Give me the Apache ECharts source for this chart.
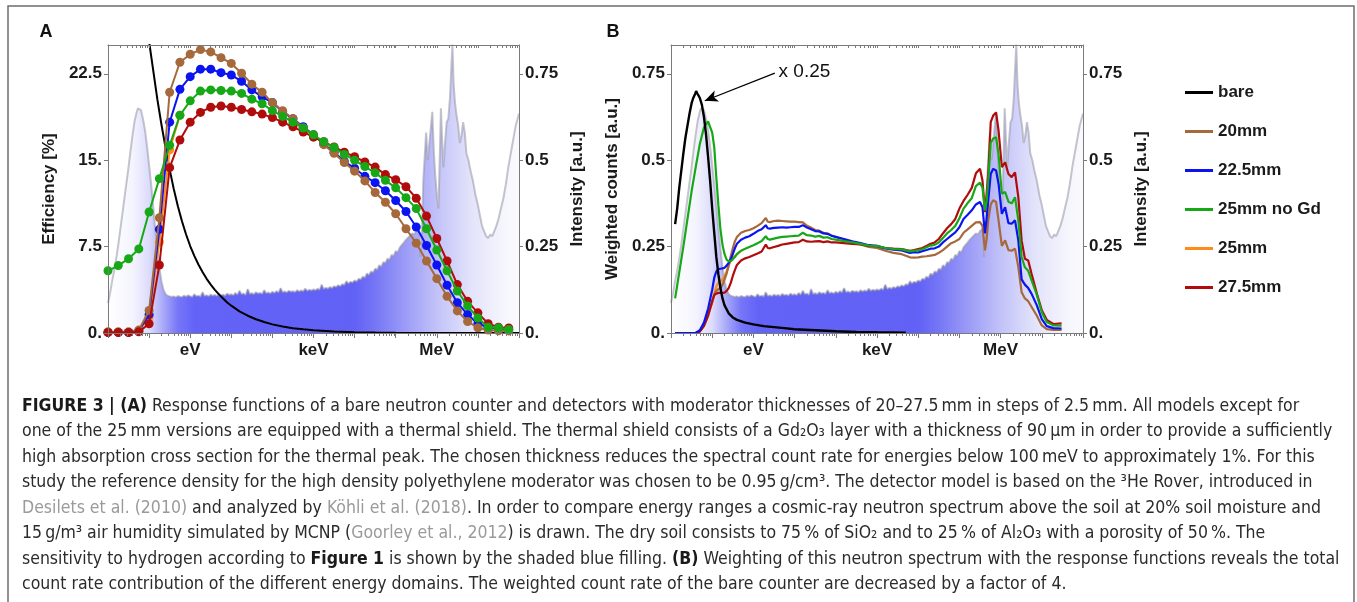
<!DOCTYPE html>
<html><head><meta charset="utf-8">
<script src="https://cdn.jsdelivr.net/npm/echarts@6/dist/echarts.min.js"></script>
<style>html,body{margin:0;padding:0;background:#fff}#c{width:1357px;height:602px}</style>
</head><body><div id="c"></div>
<script>
// ---------- DATA (x = log10(E / eV)) ----------
const xTickLabels = {0:'eV', 3:'keV', 6:'MeV'};
const seriesNames = ['bare','20mm','22.5mm','25mm no Gd','25mm','27.5mm'];

// Panel A: response functions (efficiency %), points every quarter decade
const effX = [-2,-1.75,-1.5,-1.25,-1,-0.75,-0.5,-0.25,0,0.25,0.5,0.75,1,1.25,1.5,1.75,2,2.25,2.5,2.75,3,3.25,3.5,3.75,4,4.25,4.5,4.75,5,5.25,5.5,5.75,6,6.25,6.5,6.75,7,7.25,7.5,7.75];
const eff20   = [0.1,0.1,0.1,0.25,1.95,10.0,20.9,23.5,24.2,24.6,24.4,23.9,23.4,22.55,21.6,20.9,20.0,19.3,18.6,17.8,17.2,16.35,15.6,14.8,14.05,13.2,12.2,11.35,10.35,9.05,7.8,6.25,4.72,3.18,1.92,1.0,0.45,0.25,0.2,0.18];
const eff225  = [0.05,0.05,0.05,0.2,1.6,9.0,18.3,21.15,22.25,22.9,22.9,22.6,22.4,21.85,21.1,20.5,20.0,19.2,18.6,17.9,17.2,16.4,15.7,14.9,14.3,13.6,13.05,12.35,11.5,10.55,9.2,7.6,5.9,4.15,2.63,1.6,0.8,0.5,0.35,0.3];
const eff25ng = [5.4,5.85,6.45,7.3,10.5,13.4,16.3,18.9,20.15,21.0,21.1,21.05,21.0,20.8,20.3,19.9,19.3,18.8,18.3,17.8,17.2,16.6,16.1,15.5,15.0,14.45,13.9,13.25,12.6,11.75,10.8,9.05,7.2,5.4,3.65,2.35,1.3,0.5,0.45,0.3];
const eff25   = [0.05,0.05,0.05,0.15,1.4,7.9,15.9,18.9];
const eff275  = [0.05,0.05,0.05,0.1,0.8,5.9,14.35,16.75,18.3,19.15,19.6,19.7,19.6,19.4,19.2,19.0,18.7,18.3,17.9,17.45,17.0,16.6,16.15,15.7,15.3,14.85,14.4,13.75,13.3,12.7,11.7,10.15,8.2,6.25,4.2,2.75,1.75,0.8,0.5,0.43];
const bareAX = [-1.1,-1.0,-0.9,-0.8,-0.7,-0.6,-0.5,-0.4,-0.3,-0.2,-0.1,0,0.1,0.2,0.3,0.4,0.5,0.6,0.7,0.8,0.9,1.0,1.2,1.4,1.6,1.8,2.0,2.25,2.5,2.75,3.0,3.5,4.0,4.5,5.0,6.0,7.0,8.0];
const bareAY = [27.0,25.3,22.8,20.3,18.1,16.1,14.2,12.5,11.0,9.7,8.55,7.55,6.7,5.95,5.3,4.7,4.2,3.75,3.35,3.0,2.65,2.37,1.88,1.5,1.19,0.95,0.75,0.56,0.42,0.32,0.24,0.13,0.075,0.04,0.024,0.008,0.003,0.001];

// Cosmic-ray neutron spectrum (intensity, a.u.)
const specX = [-2.0,-1.95,-1.9,-1.85,-1.8,-1.75,-1.7,-1.65,-1.6,-1.55,-1.5,-1.45,-1.4,-1.35,-1.3,-1.27,-1.24,-1.2,-1.15,-1.1,-1.05,-1.0,-0.95,-0.9,-0.85,-0.8,-0.75,-0.7,-0.65,-0.6,-0.55,-0.5,
 -0.45,-0.4,-0.35,-0.3,-0.25,-0.2,-0.15,-0.1,-0.05,0,0.05,0.1,0.15,0.2,0.25,0.3,0.35,0.4,0.45,0.5,0.55,0.6,0.65,0.7,0.75,0.8,0.85,0.9,0.95,
 1.0,1.05,1.1,1.15,1.2,1.25,1.3,1.35,1.4,1.45,1.5,1.55,1.6,1.65,1.7,1.75,1.8,1.85,1.9,1.95,
 2.0,2.05,2.1,2.15,2.2,2.25,2.3,2.35,2.4,2.45,2.5,2.55,2.6,2.65,2.7,2.75,2.8,2.85,2.9,2.95,
 3.0,3.05,3.1,3.15,3.2,3.25,3.3,3.35,3.4,3.45,3.5,3.55,3.6,3.65,3.7,3.75,3.8,3.85,3.9,3.95,
 4.0,4.05,4.1,4.15,4.2,4.25,4.3,4.35,4.4,4.45,4.5,4.55,4.6,4.65,4.7,4.75,4.8,4.85,4.9,4.95,
 5.0,5.05,5.1,5.15,5.2,5.25,5.3,5.35,5.4,5.45,5.5,5.55,
 5.58,5.6,5.64,5.67,5.71,5.74,5.78,5.82,5.86,5.89,5.93,5.96,6.0,6.04,6.07,6.1,6.13,6.16,6.2,6.24,6.28,6.32,6.35,6.38,6.41,6.44,6.48,6.52,6.56,6.6,6.64,6.68,6.72,6.77,6.82,6.88,6.94,7.0,7.05,7.1,7.15,7.2,7.25,7.3,7.35,7.4,7.45,7.5,7.56,7.62,7.68,7.74,7.8,7.86,7.92,8.0];
const specY = [0.087,0.115,0.15,0.18,0.215,0.255,0.3,0.345,0.39,0.435,0.48,0.53,0.575,0.615,0.64,0.65,0.655,0.645,0.62,0.587,0.54,0.485,0.43,0.365,0.3,0.245,0.19,0.15,0.125,0.113,0.108,0.106,
 0.104,0.106,0.103,0.107,0.105,0.104,0.108,0.105,0.109,0.106,0.104,0.112,0.106,0.108,0.105,0.118,0.107,0.109,0.106,0.111,0.108,0.110,0.107,0.113,0.109,0.111,0.108,0.114,0.110,
 0.112,0.109,0.116,0.111,0.122,0.112,0.114,0.110,0.127,0.113,0.115,0.112,0.118,0.114,0.116,0.113,0.124,0.115,0.117,0.114,
 0.119,0.116,0.121,0.117,0.130,0.118,0.120,0.117,0.122,0.119,0.121,0.118,0.124,0.120,0.123,0.121,0.128,0.122,0.125,0.123,
 0.126,0.124,0.128,0.125,0.140,0.127,0.131,0.128,0.133,0.130,0.135,0.133,0.138,0.135,0.141,0.139,0.150,0.143,0.148,0.146,
 0.152,0.149,0.157,0.155,0.163,0.160,0.172,0.168,0.178,0.175,0.186,0.183,0.196,0.192,0.205,0.203,0.215,0.212,0.226,0.223,
 0.237,0.234,0.248,0.255,0.262,0.270,0.276,0.282,0.288,0.285,0.295,0.300,
 0.29,0.22,0.30,0.44,0.52,0.58,0.50,0.55,0.60,0.64,0.52,0.46,0.40,0.36,0.50,0.65,0.56,0.48,0.55,0.61,0.62,0.68,0.76,0.835,0.72,0.67,0.63,0.60,0.55,0.57,0.61,0.58,0.52,0.50,0.47,0.44,0.40,0.37,0.34,0.31,0.295,0.28,0.275,0.285,0.28,0.295,0.31,0.33,0.36,0.39,0.43,0.48,0.52,0.56,0.60,0.635];

// Panel B: weighted counts
const bX = [-1.9,-1.8,-1.7,-1.6,-1.5,-1.4,-1.3,-1.2,-1.1,-1.0,
 -0.95,-0.9,-0.85,-0.8,-0.75,-0.7,-0.65,-0.6,-0.55,-0.5,-0.45,-0.4,
 -0.3,-0.2,-0.1,0,0.1,0.2,0.3,0.35,0.4,
 0.5,0.6,0.7,0.8,0.9,1.0,1.1,1.2,1.3,1.4,1.5,1.6,1.7,1.8,1.9,2.0,
 2.2,2.4,2.6,2.8,3.0,3.2,3.4,3.6,3.8,
 3.9,4.0,4.1,4.2,4.3,4.4,4.5,4.6,4.7,4.8,4.9,5.0,5.1,5.2,5.3,5.4,5.5,
 5.56,5.62,5.66,5.7,5.76,5.82,5.89,5.95,
 6.03,6.11,6.19,6.27,6.35,6.43,6.51,6.59,6.67,6.75,
 6.88,7.0,7.12,7.28,7.48];
const w25ng = [0.10,0.175,0.25,0.33,0.41,0.48,0.547,0.595,0.612,0.58,
 0.537,0.45,0.37,0.30,0.255,0.228,0.212,0.207,0.208,0.213,0.22,0.228,
 0.238,0.244,0.249,0.254,0.26,0.266,0.28,0.272,0.27,
 0.273,0.276,0.278,0.279,0.28,0.281,0.282,0.29,0.283,0.282,0.279,0.281,0.276,0.277,0.272,0.27,
 0.266,0.262,0.258,0.253,0.252,0.246,0.243,0.242,0.236,
 0.238,0.24,0.242,0.248,0.253,0.255,0.262,0.275,0.288,0.298,0.31,0.332,0.36,0.376,0.39,0.425,0.435,
 0.42,0.355,0.38,0.441,0.55,0.563,0.566,0.518,
 0.403,0.408,0.38,0.375,0.393,0.326,0.22,0.19,0.18,0.153,
 0.11,0.06,0.032,0.022,0.021];
const w225 = [0,0,0,0,0,0,0.008,0.03,0.07,0.125,
 0.16,0.178,0.185,0.186,0.187,0.189,0.195,0.203,0.213,0.228,0.245,0.258,
 0.27,0.276,0.28,0.287,0.295,0.3,0.312,0.303,0.302,
 0.304,0.305,0.306,0.305,0.306,0.307,0.307,0.312,0.305,0.3,0.295,0.294,0.288,0.287,0.281,0.278,
 0.272,0.265,0.26,0.254,0.252,0.245,0.241,0.239,0.232,
 0.234,0.233,0.237,0.24,0.244,0.245,0.25,0.262,0.272,0.282,0.291,0.306,0.33,0.342,0.355,0.372,0.379,
 0.364,0.288,0.33,0.384,0.46,0.475,0.47,0.432,
 0.345,0.364,0.318,0.316,0.326,0.268,0.155,0.14,0.13,0.114,
 0.08,0.04,0.02,0.014,0.013];
const w20 = [0,0,0,0,0,0,0.006,0.025,0.055,0.09,
 0.11,0.122,0.127,0.13,0.14,0.155,0.172,0.195,0.222,0.245,0.265,0.278,
 0.29,0.295,0.298,0.303,0.31,0.318,0.333,0.322,0.321,
 0.324,0.325,0.324,0.323,0.322,0.322,0.321,0.32,0.31,0.305,0.298,0.296,0.29,0.288,0.282,0.278,
 0.27,0.262,0.256,0.249,0.246,0.238,0.232,0.228,0.219,
 0.218,0.219,0.221,0.222,0.224,0.226,0.232,0.24,0.25,0.26,0.265,0.272,0.29,0.3,0.31,0.32,0.321,
 0.31,0.239,0.27,0.326,0.372,0.384,0.379,0.326,
 0.252,0.268,0.24,0.238,0.244,0.191,0.118,0.1,0.092,0.076,
 0.05,0.022,0.011,0.009,0.009];
const w275 = [0,0,0,0,0,0,0.004,0.02,0.05,0.092,
 0.11,0.114,0.116,0.116,0.116,0.117,0.122,0.13,0.145,0.165,0.182,0.197,
 0.21,0.216,0.22,0.225,0.23,0.236,0.256,0.246,0.245,
 0.249,0.252,0.256,0.258,0.26,0.262,0.263,0.27,0.265,0.264,0.265,0.266,0.263,0.265,0.262,0.262,
 0.26,0.258,0.256,0.252,0.251,0.246,0.244,0.243,0.238,
 0.24,0.243,0.246,0.252,0.258,0.262,0.272,0.288,0.303,0.315,0.33,0.36,0.382,0.4,0.42,0.462,0.475,
 0.441,0.35,0.40,0.46,0.61,0.629,0.638,0.586,
 0.48,0.494,0.46,0.451,0.465,0.393,0.268,0.215,0.21,0.172,
 0.114,0.066,0.038,0.026,0.028];
const w25 = [0,0,0,0,0,0,0.005,0.022,0.05,0.088,
 0.115,0.135,0.145,0.15,0.155,0.165,0.178,0.195,0.21,0.218,0.222,0.228,0.238];
const bareBX = [-1.9,-1.85,-1.8,-1.75,-1.7,-1.65,-1.6,-1.55,-1.5,-1.46,-1.42,-1.39,-1.36,-1.33,-1.3,-1.25,-1.2,-1.15,-1.1,-1.05,-1.0,-0.95,-0.9,-0.85,-0.8,-0.75,-0.7,-0.6,-0.5,-0.4,-0.2,0,0.25,0.5,0.75,1.0,1.5,2.0,2.5,3.0,3.7];
const bareBY = [0.315,0.36,0.42,0.47,0.52,0.565,0.6,0.635,0.665,0.68,0.69,0.70,0.693,0.69,0.68,0.66,0.625,0.575,0.51,0.44,0.36,0.29,0.22,0.17,0.13,0.10,0.08,0.057,0.045,0.038,0.03,0.025,0.02,0.017,0.014,0.011,0.008,0.005,0.003,0.002,0.001];

const effTicks = [0, 7.5, 15, 22.5];
const effLabels = ['0.', '7.5', '15.', '22.5'];
const intTicks = [0, 0.25, 0.5, 0.75];
const intLabels = ['0.', '0.25', '0.5', '0.75'];

// ---------- STYLE ----------
const FONT = "'Liberation Sans', Arial, sans-serif";
const CAP_FONT = "'Liberation Sans Narrow', 'DejaVu Sans Condensed', 'Liberation Sans', sans-serif";
const COL = {bare:'#000000','20mm':'#a5693b','22.5mm':'#0a14f0','25mm no Gd':'#17a817','25mm':'#ff8c1a','27.5mm':'#b00c0c'};
const AX = '#7a7a7a';
const zip = (xs, ys) => ys.map((y, i) => [xs[i], y]);

const majorTicks = [-2,-1,0,1,2,3,4,5,6,7,8];
const minorTicks = [];
for (let d = -2; d < 8; d++) for (let k = 2; k <= 9; k++) minorTicks.push(d + Math.log10(k));

function xAxes(g) {
  return [
    {type:'value', gridIndex:g, min:-2, max:8, position:'bottom', z:10,
     axisLine:{show:true, onZero:false, lineStyle:{color:AX, width:1}},
     axisTick:{show:true, customValues:majorTicks, length:5, lineStyle:{color:AX}},
     axisLabel:{show:true, customValues:[0,3,6], formatter:v => xTickLabels[Math.round(v)], margin:9,
       fontSize:17, fontWeight:'bold', color:'#1a1a1a', fontFamily:FONT},
     splitLine:{show:false}},
    {type:'value', gridIndex:g, min:-2, max:8, position:'bottom', z:10,
     axisLine:{show:false, onZero:false},
     axisTick:{show:true, customValues:minorTicks, length:3, lineStyle:{color:AX}},
     axisLabel:{show:false}, splitLine:{show:false}},
    {type:'value', gridIndex:g, min:-2, max:8, position:'top', z:10,
     axisLine:{show:true, onZero:false, lineStyle:{color:AX, width:1}},
     axisTick:{show:true, inside:true, customValues:majorTicks.concat(minorTicks), length:3, lineStyle:{color:AX}},
     axisLabel:{show:false}, splitLine:{show:false}}
  ];
}
function yAxis(g, pos, max, ticks, labels, name) {
  return {type:'value', gridIndex:g, min:0, max:max, position:pos, z:10,
    name:name, nameLocation:'middle', nameGap:50, nameRotate:90,
    nameTextStyle:{fontSize:17, fontWeight:'bold', color:'#1a1a1a', fontFamily:FONT},
    axisLine:{show:true, onZero:false, lineStyle:{color:AX, width:1}},
    axisTick:{show:true, customValues:ticks, length:4, lineStyle:{color:AX}},
    axisLabel:{show:true, customValues:ticks, formatter:v => labels[ticks.indexOf(v)] ?? String(v), margin:6,
      fontSize:17, fontWeight:'bold', color:'#1a1a1a', fontFamily:FONT},
    splitLine:{show:false}};
}

const INT_MAX = 25 / 30;
const fill = new echarts.graphic.LinearGradient(0, 0, 1, 0, [
  {offset:0.00, color:'#ffffff'}, {offset:0.06, color:'#f4f4fe'}, {offset:0.10, color:'#dcdcfc'},
  {offset:0.135, color:'#a8a8fa'}, {offset:0.17, color:'#7676f8'}, {offset:0.21, color:'#6363f8'},
  {offset:0.60, color:'#6161f6'}, {offset:0.65, color:'#7676f6'}, {offset:0.72, color:'#9a9af7'},
  {offset:0.80, color:'#c2c2f9'}, {offset:0.88, color:'#e2e2fb'}, {offset:0.96, color:'#f5f5fd'},
  {offset:1.00, color:'#fafafe'}]);

function spectrum(xi, yi) {
  return {type:'line', xAxisIndex:xi, yAxisIndex:yi, data:zip(specX, specY), showSymbol:false, silent:true, z:1,
    lineStyle:{color:'rgba(150,150,165,0.55)', width:2}, areaStyle:{color:fill, opacity:1}};
}
function dots(name, xs, ys, z) {
  return {type:'line', name:name, xAxisIndex:0, yAxisIndex:0, data:zip(xs, ys), symbol:'circle', symbolSize:9,
    showSymbol:true, z:z, silent:true, lineStyle:{color:COL[name], width:2}, itemStyle:{color:COL[name]}};
}
function curve(name, xs, ys, z, w) {
  return {type:'line', name:name, xAxisIndex:3, yAxisIndex:2, data:zip(xs, ys), showSymbol:false,
    z:z, silent:true, lineStyle:{color:COL[name], width:w || 2.2}, itemStyle:{color:COL[name]}};
}

const series = [
  spectrum(0, 1),
  {type:'line', name:'bare', xAxisIndex:0, yAxisIndex:0, data:zip(bareAX, bareAY), showSymbol:false, z:3, silent:true,
   lineStyle:{color:'#000', width:2}, itemStyle:{color:'#000'}},
  dots('25mm', effX, eff25, 4),
  dots('22.5mm', effX, eff225, 5),
  dots('20mm', effX, eff20, 6),
  dots('27.5mm', effX, eff275, 7),
  dots('25mm no Gd', effX, eff25ng, 8),
  spectrum(3, 3),
  curve('25mm', bX, w25, 4),
  curve('20mm', bX, w20, 5),
  curve('27.5mm', bX, w275, 6),
  curve('22.5mm', bX, w225, 7),
  curve('25mm no Gd', bX, w25ng, 8),
  Object.assign(curve('bare', bareBX, bareBY, 9, 2.4), {
    markLine:{silent:true, symbol:['arrow','none'], symbolSize:[9,13], precision:4,
      lineStyle:{color:'#000', width:1.3, type:'solid'},
      label:{show:true, position:'end', formatter:'x 0.25', fontSize:19, color:'#111', fontFamily:FONT, distance:4},
      data:[[{coord:[-1.18, 0.672]}, {coord:[0.52, 0.752]}]]}})
];

const capY0 = 406, capDY = 25.55;
const capLines = [
  '{b|FIGURE 3 | (A)} Response functions of a bare neutron counter and detectors with moderator thicknesses of 20–27.5\u2009mm in steps of 2.5\u2009mm. All models except for',
  'one of the 25\u2009mm versions are equipped with a thermal shield. The thermal shield consists of a Gd₂O₃ layer with a thickness of 90\u2009µm in order to provide a sufficiently',
  'high absorption cross section for the thermal peak. The chosen thickness reduces the spectral count rate for energies below 100\u2009meV to approximately 1%. For this',
  'study the reference density for the high density polyethylene moderator was chosen to be 0.95\u2009g/cm³. The detector model is based on the ³He Rover, introduced in',
  '{g|Desilets et al. (2010)} and analyzed by {g|Köhli et al. (2018)}. In order to compare energy ranges a cosmic-ray neutron spectrum above the soil at 20% soil moisture and',
  '15\u2009g/m³ air humidity simulated by MCNP ({g|Goorley et al., 2012}) is drawn. The dry soil consists to 75\u2009% of SiO₂ and to 25\u2009% of Al₂O₃ with a porosity of 50\u2009%. The',
  'sensitivity to hydrogen according to {b|Figure 1} is shown by the shaded blue filling. {b|(B)} Weighting of this neutron spectrum with the response functions reveals the total',
  'count rate contribution of the different energy domains. The weighted count rate of the bare counter are decreased by a factor of 4.'
];
const CAP_SIZE = 17.5;
const capText = capLines.map((t, i) => ({type:'text', x:22, y:capY0 + i * capDY, silent:true,
  style:{text:t, fill:'#2b2b2b', fontSize:CAP_SIZE, fontFamily:CAP_FONT, verticalAlign:'middle', align:'left',
    rich:{b:{fontWeight:'bold', fill:'#1a1a1a', fontSize:CAP_SIZE, fontFamily:CAP_FONT},
          g:{fill:'#9a9a9a', fontSize:CAP_SIZE, fontFamily:CAP_FONT}}}}));

const chart = echarts.init(document.getElementById('c'), null, {renderer:'canvas'});
chart.setOption({
  animation:false,
  backgroundColor:'#ffffff',
  grid:[
    {left:108, right:1357-519, top:45, bottom:602-333, containLabel:false, outerBoundsMode:'none'},
    {left:671, right:1357-1083, top:45, bottom:602-333, containLabel:false, outerBoundsMode:'none'}
  ],
  xAxis: xAxes(0).concat(xAxes(1)),
  yAxis: [
    yAxis(0, 'left', 25, effTicks, effLabels, 'Efficiency [%]'),
    yAxis(0, 'right', INT_MAX, intTicks, intLabels, 'Intensity [a.u.]'),
    yAxis(1, 'left', INT_MAX, intTicks, intLabels, 'Weighted counts [a.u.]'),
    yAxis(1, 'right', INT_MAX, intTicks, intLabels, 'Intensity [a.u.]')
  ],
  legend:{data:seriesNames, orient:'vertical', left:1180, top:79, itemWidth:28, itemHeight:3, icon:'rect',
    itemGap:22, selectedMode:false,
    textStyle:{fontSize:17, fontWeight:'bold', color:'#1a1a1a', fontFamily:FONT, lineHeight:17}},
  series: series,
  graphic:[
    {type:'rect', silent:true, shape:{x:8, y:6, width:1346, height:700}, style:{fill:'none', stroke:'#6e6e6e', lineWidth:1.5}},
    {type:'text', x:46, y:32, silent:true, style:{text:'A', fontSize:18, fontWeight:'bold', fill:'#111', fontFamily:FONT, align:'center', verticalAlign:'middle'}},
    {type:'text', x:613, y:32, silent:true, style:{text:'B', fontSize:18, fontWeight:'bold', fill:'#111', fontFamily:FONT, align:'center', verticalAlign:'middle'}}
  ].concat(capText)
});
</script></body></html>
